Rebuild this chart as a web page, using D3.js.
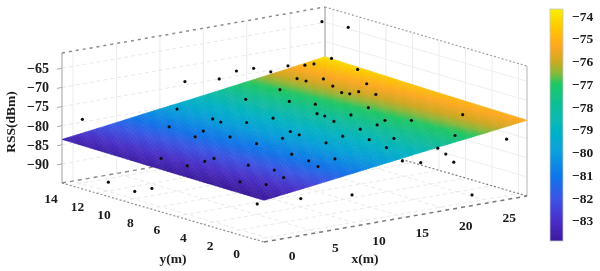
<!DOCTYPE html>
<html>
<head>
<meta charset="utf-8">
<script src="https://cdn.jsdelivr.net/npm/d3@7"></script>
<style>
  body { margin: 0; background: #fff; }
  text { font-family: "Liberation Serif", serif; font-weight: bold; fill: #1a1a1a; }
</style>
</head>
<body>
<div class="chart"></div>
<script>
var svgWidth = 600;
var svgHeight = 271;

// Axis limits and ticks
var xLimits = [-1.27, 29];
var yLimits = [-0.64, 14.6];
var zLimits = [-95, -61];
var xTicks = [0, 5, 10, 15, 20, 25];
var yTicks = [0, 2, 4, 6, 8, 10, 12, 14];
var zTicks = [-90, -85, -80, -75, -70, -65];
var colorTicks = [-83, -82, -81, -80, -79, -78, -77, -76, -75, -74];

// Fitted surface, read at these x / y positions
var surfaceX = [-1.27, 4, 9, 14, 19, 24, 29];
var surfaceY = [-0.64, 7, 14.6];
var surfaceRow0 = [-84.1, -82.6, -81.1, -79.6, -78.1, -76.7, -75.2];
var surfaceRow1 = [-83.9, -82.3, -80.8, -79.3, -77.8, -76.3, -74.7];
var surfaceRow2 = [-83.6, -82.0, -80.4, -78.9, -77.3, -75.7, -74.0];

// Measured points
var dotX = [0.62, 12.42, 16.37, 18.35, 20.33, 22.30, 24.28, 23.77, 26.23, 27.27, 28.39, 28.19, 28.39, 28.39, 26.75,
  23.81, 25.19, 24.39, 23.63, 23.90, 24.79, 25.24, 20.66, 16.84, 18.99, 19.91, 22.30, 11.10, 11.24, 11.13,
  12.52, 14.83, 7.28, 8.42, 6.87, 8.81, 9.06, 13.35, 13.16, 11.59, 18.26, 18.23, 19.92, 17.75, 20.83,
  22.38, 26.42, 19.52, 17.74, 15.40, 17.96, 16.26, 13.21, 15.74, 19.19, 21.95, 27.11, 20.11, 21.03, 17.23,
  15.11, 9.08, 10.68, 8.76, 8.21, 0.81, 3.85, 2.74, 0.87, 4.48, 0.89, 1.82, 5.04, 4.15, -0.66,
  -0.66, -0.66, -0.66, 3.42, 9.32, 23.13];
var dotY = [14.30, 14.30, 14.30, 14.30, 14.30, 14.30, 14.30, 13.28, 14.30, 14.30, 13.71, 14.30, 12.45, 11.74, 9.98,
  12.63, 12.22, 10.99, 9.82, 9.39, 9.30, 8.30, 12.53, 12.61, 10.73, 9.37, 6.94, 14.03, 11.43, 10.75,
  9.71, 9.23, 12.12, 10.29, 9.89, 8.53, 6.69, 6.96, 6.16, 6.39, 8.16, 7.56, 6.69, 6.55, 4.72,
  3.74, 2.52, 4.45, 4.56, 4.35, 2.16, 2.91, 4.17, 1.27, -0.34, 0.17, -0.34, -0.34, -0.34, -0.34,
  -0.34, 4.05, 1.84, 2.56, 1.50, 8.49, 6.49, 6.46, 6.55, 4.31, 2.59, 1.22, 2.72, 1.43, 11.50,
  9.51, 8.22, 0.27, -0.34, -0.34, -0.34];
var dotZ = [-78.8, -73.6, -74.5, -73.2, -73.3, -75.0, -74.2, -76.3, -74.8, -74.9, -73.3, -64.2, -63.9, -74.2, -75.5,
  -76.3, -75.9, -76.2, -76.4, -76.4, -76.1, -76.0, -77.2, -78.3, -77.8, -77.5, -76.9, -80.0, -80.0, -80.1,
  -79.7, -79.0, -81.2, -80.9, -81.4, -80.8, -80.8, -79.6, -79.6, -80.1, -78.1, -78.1, -77.6, -78.3, -77.4,
  -77.0, -75.9, -77.8, -78.3, -79.0, -78.4, -78.8, -79.7, -79.0, -78.9, -77.2, -79.7, -80.8, -83.3, -81.9,
  -80.6, -80.9, -80.5, -81.0, -81.2, -83.2, -82.4, -82.7, -83.2, -82.2, -83.4, -83.1, -82.1, -82.4, -91.9,
  -92.3, -90.2, -86.2, -85.8, -87.2, -92.7];

// Colormap of the colour bar
var colorValues = [-83.9, -83, -82, -81, -80, -79, -78, -77, -76.5, -76, -75.3, -74.5, -73.7];
var colorStops = ["#3a1a9e", "#4a2ec8", "#3a55e6", "#0a78ea", "#089edc", "#05b4c4", "#0cbe9c", "#1ec864",
  "#8cb838", "#d0a820", "#ffa820", "#ffc800", "#f8f000"];

var colorScale = d3.scaleLinear().domain(colorValues).range(colorStops).clamp(true);

var svg = d3.select(".chart")
  .append("svg")
  .attr("width", svgWidth)
  .attr("height", svgHeight)
  .style("display", "block");

// The source picture is a soft scan
svg.append("filter")
  .attr("id", "soft")
  .attr("filterUnits", "userSpaceOnUse")
  .attr("x", 0).attr("y", 0)
  .attr("width", svgWidth).attr("height", svgHeight)
  .append("feGaussianBlur")
  .attr("stdDeviation", 0.45);

var chartGroup = svg.append("g").attr("filter", "url(#soft)");

// Fixed oblique view: box corners on the page
var origin = { x: 264, y: 242 };
var xStep = { x: 263, y: -46 };
var yStep = { x: -202, y: -59 };
var boxHeight = 130;

var uScale = d3.scaleLinear().domain(xLimits).range([0, 1]);
var vScale = d3.scaleLinear().domain(yLimits).range([0, 1]);
var wScale = d3.scaleLinear().domain(zLimits).range([0, 1]);

function project(x, y, z) {
  var u = uScale(x), v = vScale(y), w = wScale(z);
  return [origin.x + u * xStep.x + v * yStep.x, origin.y + u * xStep.y + v * yStep.y - w * boxHeight];
}

function drawLine(a, b, color, width, dash) {
  chartGroup.append("line")
    .attr("x1", a[0]).attr("y1", a[1])
    .attr("x2", b[0]).attr("y2", b[1])
    .attr("stroke", color)
    .attr("stroke-width", width)
    .attr("stroke-dasharray", dash);
}

var x0 = xLimits[0], x1 = xLimits[1];
var y0 = yLimits[0], y1 = yLimits[1];
var z0 = zLimits[0], z1 = zLimits[1];

// Walls and floor grid
xTicks.forEach(function (t) {
  drawLine(project(t, y1, z0), project(t, y1, z1), "#ececec", 1, null);
  drawLine(project(t, y0, z0), project(t, y1, z0), "#e8e8e8", 0.9, "4,3");
});
yTicks.forEach(function (t) {
  drawLine(project(x1, t, z0), project(x1, t, z1), "#ececec", 1, null);
  drawLine(project(x0, t, z0), project(x1, t, z0), "#e8e8e8", 0.9, "4,3");
});
zTicks.forEach(function (t) {
  drawLine(project(x0, y1, t), project(x1, y1, t), "#e6e6e6", 0.9, "4,3");
  drawLine(project(x1, y1, t), project(x1, y0, t), "#ececec", 0.9, null);
});

// Box edges
drawLine(project(x0, y1, z0), project(x0, y1, z1), "#c4c4c4", 1.6, null);
drawLine(project(x1, y1, z0), project(x1, y1, z1), "#bdbdbd", 1.6, null);
drawLine(project(x1, y0, z0), project(x1, y0, z1), "#d0d0d0", 1.6, null);
drawLine(project(x0, y1, z1), project(x1, y1, z1), "#8c8c8c", 1.5, "3,4");
drawLine(project(x1, y1, z1), project(x1, y0, z1), "#a0a0a0", 1.2, "2,2");
drawLine(project(x0, y1, z0), project(x1, y1, z0), "#8c8c8c", 1.4, "4,4");
drawLine(project(x1, y1, z0), project(x1, y0, z0), "#808080", 1.2, "2,2");
drawLine(project(x0, y1, z0), project(x0, y0, z0), "#909090", 1.2, "2,2");
drawLine(project(x0, y0, z0), project(x1, y0, z0), "#787878", 1.5, "4,4");

// Surface: each table cell is shaded on a fine mesh
var surfaceRows = [surfaceRow0, surfaceRow1, surfaceRow2];
var rowScales = surfaceRows.map(function (row) {
  return d3.scaleLinear().domain(surfaceX).range(row);
});

function surfaceZ(x, y) {
  var rowAt = d3.scaleLinear().domain(surfaceY).range(rowScales.map(function (s) { return s(x); }));
  return rowAt(y);
}

var meshX = d3.range(0, 101).map(function (i) { return x0 + (x1 - x0) * i / 100; });
var meshY = d3.range(0, 51).map(function (i) { return y0 + (y1 - y0) * i / 50; });
var cells = [];
meshX.slice(1).forEach(function (mx, i) {
  meshY.slice(1).forEach(function (my, j) {
    cells.push({ xa: meshX[i], xb: mx, ya: meshY[j], yb: my });
  });
});

function cellPath(c) {
  return "M" + [
    project(c.xa, c.ya, surfaceZ(c.xa, c.ya)),
    project(c.xb, c.ya, surfaceZ(c.xb, c.ya)),
    project(c.xb, c.yb, surfaceZ(c.xb, c.yb)),
    project(c.xa, c.yb, surfaceZ(c.xa, c.yb))
  ].join("L") + "Z";
}

function cellColor(c) {
  return colorScale(surfaceZ((c.xa + c.xb) / 2, (c.ya + c.yb) / 2));
}

chartGroup.append("g")
  .selectAll("path")
  .data(cells)
  .enter()
  .append("path")
  .attr("d", cellPath)
  .attr("fill", cellColor)
  .attr("stroke", function (c) { return d3.color(cellColor(c)).darker(0.07); })
  .attr("stroke-width", 0.5);

// Measured points
chartGroup.append("g")
  .selectAll("circle")
  .data(dotX)
  .enter()
  .append("circle")
  .attr("cx", function (d, i) { return project(dotX[i], dotY[i], dotZ[i])[0]; })
  .attr("cy", function (d, i) { return project(dotX[i], dotY[i], dotZ[i])[1]; })
  .attr("r", 1.6)
  .attr("fill", "#111");

// Tick labels
function minus(v) {
  return String(v).replace("-", "\u2212");
}

chartGroup.append("g")
  .selectAll("text")
  .data(xTicks)
  .enter()
  .append("text")
  .attr("x", function (d) { return project(d, y0, z0)[0] + 17; })
  .attr("y", function (d) { return project(d, y0, z0)[1] + 20; })
  .attr("text-anchor", "middle")
  .attr("font-size", 13.5)
  .text(function (d) { return d; });

chartGroup.append("g")
  .selectAll("text")
  .data(yTicks)
  .enter()
  .append("text")
  .attr("x", function (d) { return project(x0, d, z0)[0] - 19; })
  .attr("y", function (d) { return project(x0, d, z0)[1] + 18; })
  .attr("text-anchor", "middle")
  .attr("font-size", 13.5)
  .text(function (d) { return d; });

var zGroup = chartGroup.append("g")
  .selectAll("g")
  .data(zTicks)
  .enter()
  .append("g")
  .attr("transform", function (d) { return "translate(" + project(x0, y1, d).join(",") + ")"; });

zGroup.append("line")
  .attr("x1", -5).attr("x2", 0)
  .attr("y1", 1).attr("y2", 0)
  .attr("stroke", "#aaa");

zGroup.append("text")
  .attr("x", -13)
  .attr("dy", "0.35em")
  .attr("text-anchor", "end")
  .attr("font-size", 14)
  .text(minus);

// Axis titles
chartGroup.append("text")
  .attr("transform", "translate(15, 122) rotate(-90)")
  .attr("text-anchor", "middle")
  .attr("font-size", 13.5)
  .text("RSS(dBm)");

chartGroup.append("text")
  .attr("x", 173).attr("y", 263)
  .attr("text-anchor", "middle")
  .attr("font-size", 13.5)
  .text("y(m)");

chartGroup.append("text")
  .attr("x", 365).attr("y", 263)
  .attr("text-anchor", "middle")
  .attr("font-size", 13.5)
  .text("x(m)");

// Colour bar
var barScale = d3.scaleLinear().domain([colorValues[0], colorValues[colorValues.length - 1]]).range([241, 9]);

var gradient = svg.append("linearGradient")
  .attr("id", "barFill")
  .attr("x1", 0).attr("y1", 1)
  .attr("x2", 0).attr("y2", 0);

gradient.selectAll("stop")
  .data(colorValues)
  .enter()
  .append("stop")
  .attr("offset", function (d) { return (d - colorValues[0]) / (colorValues[colorValues.length - 1] - colorValues[0]); })
  .attr("stop-color", function (d) { return colorScale(d); });

chartGroup.append("rect")
  .attr("x", 550).attr("y", barScale.range()[1])
  .attr("width", 13).attr("height", barScale.range()[0] - barScale.range()[1])
  .attr("fill", "url(#barFill)")
  .attr("stroke", "#c9c9c9")
  .attr("stroke-width", 0.8);

var barAxis = d3.axisRight(barScale)
  .tickValues(colorTicks)
  .tickSize(0)
  .tickPadding(9)
  .tickFormat(minus);

var barGroup = chartGroup.append("g")
  .attr("transform", "translate(563, 0)")
  .call(barAxis);

barGroup.select(".domain").remove();
barGroup.selectAll("text")
  .attr("font-size", 13.5)
  .style("font-family", "'Liberation Serif', serif");
</script>
</body>
</html>
